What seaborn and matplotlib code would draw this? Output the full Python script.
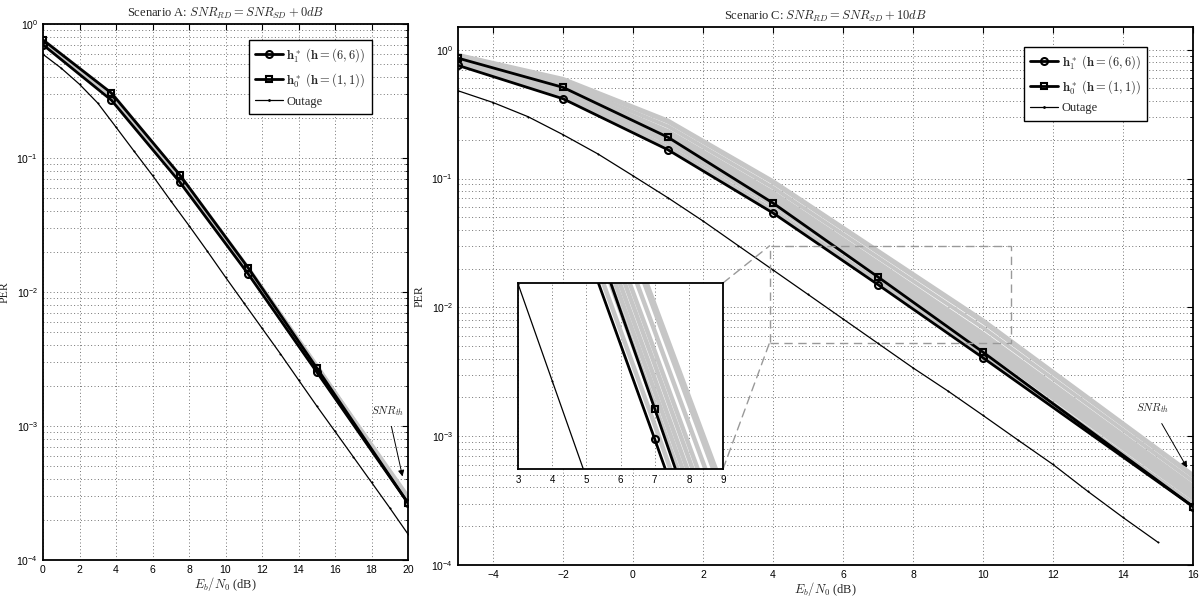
import numpy as np
import pandas as pd
import matplotlib
matplotlib.use('Agg')
import matplotlib.pyplot as plt
import seaborn as sns
from matplotlib.patches import Rectangle, ConnectionPatch
from matplotlib.lines import Line2D
from matplotlib.ticker import LogLocator, NullFormatter, FixedLocator

# ---------------- data: Scenario A ----------------
xA = [0, 3.75, 7.5, 11.25, 15, 20]
h1A = [0.70, 0.27, 0.066, 0.0136, 0.00253, 2.66e-4]
h0A = [0.76, 0.305, 0.0746, 0.0151, 0.00271, 2.66e-4]
grayA1 = [0.72, 0.28, 0.068, 0.0140, 0.00262, 2.75e-4]
grayA2 = [0.73, 0.29, 0.070, 0.0143, 0.00268, 2.85e-4]
grayA3 = [0.74, 0.295, 0.072, 0.0146, 0.00275, 2.95e-4]
grayA4 = [0.75, 0.30, 0.073, 0.0149, 0.00280, 2.80e-4]
xOutA = [0, 1, 2, 3, 4, 5, 6, 7, 8, 9, 10, 11, 12, 13, 14, 15, 16, 17, 18, 19, 20]
outA = [0.594, 0.468, 0.355, 0.257, 0.170, 0.112, 0.0741, 0.0479, 0.0313, 0.0202,
        0.0129, 0.00832, 0.00537, 0.00347, 0.00221, 0.00141, 9.12e-4, 5.89e-4,
        3.80e-4, 2.45e-4, 1.56e-4]

# ---------------- data: Scenario C ----------------
xC = [-5, -2, 1, 4, 7, 10, 16]
h1C = [0.755, 0.416, 0.167, 0.054, 0.0150, 0.00406, 2.84e-4]
h0C = [0.86, 0.51, 0.209, 0.0645, 0.0172, 0.00449, 2.84e-4]
grayC1 = [0.769, 0.431, 0.176, 0.0571, 0.0160, 0.00434, 3.01e-4]
grayC2 = [0.792, 0.455, 0.190, 0.0622, 0.0175, 0.00480, 3.28e-4]
grayC3 = [0.807, 0.471, 0.200, 0.0659, 0.0186, 0.00513, 3.47e-4]
grayC4 = [0.822, 0.489, 0.211, 0.0698, 0.0197, 0.00548, 3.67e-4]
grayC5 = [0.838, 0.506, 0.222, 0.0738, 0.0210, 0.00587, 3.88e-4]
grayC6 = [0.853, 0.525, 0.234, 0.0782, 0.0223, 0.00628, 4.11e-4]
grayC7 = [0.879, 0.553, 0.254, 0.0851, 0.0244, 0.00695, 4.48e-4]
grayC8 = [0.904, 0.583, 0.275, 0.0929, 0.0267, 0.00767, 4.88e-4]
grayC9 = [0.912, 0.594, 0.282, 0.0955, 0.0275, 0.00794, 5.01e-4]
xOutC = [-5, -4, -3, -2, -1, 0, 1, 2, 3, 4, 5, 6, 7, 8, 9, 10, 11, 12, 13, 14, 15]
outC = [0.48, 0.389, 0.302, 0.219, 0.155, 0.105, 0.0708, 0.0468, 0.0302, 0.0195,
        0.0126, 0.00813, 0.00525, 0.00339, 0.00224, 0.00145, 9.33e-4, 6.03e-4,
        3.72e-4, 2.34e-4, 1.5e-4]

xticksA = [0, 2, 4, 6, 8, 10, 12, 14, 16, 18, 20]
xticksC = [-4, -2, 0, 2, 4, 6, 8, 10, 12, 14, 16]
xticksInset = [3, 4, 5, 6, 7, 8, 9]

labels = [r"$\mathbf{h}_1^*\ (\mathbf{h}=(6,6))$",
          r"$\mathbf{h}_0^*\ (\mathbf{h}=(1,1))$",
          "Outage"]

# ---------------- style ----------------
sns.set_theme(style='white')
plt.rcParams['font.family'] = ['Liberation Sans', 'DejaVu Sans']
plt.rcParams['mathtext.fontset'] = 'cm'
plt.rcParams['axes.edgecolor'] = 'black'
plt.rcParams['axes.linewidth'] = 1.3
SERIF = ['Liberation Serif', 'DejaVu Serif']
GRAY = '#c6c6c6'
GRID = dict(ls=(0, (1, 2.5)), color='0.45', lw=0.7)

fig = plt.figure(figsize=(12.03, 5.97), dpi=100)
axA = fig.add_axes([43/1203, 37/597, 365/1203, 536/597])
axC = fig.add_axes([458/1203, 32/597, 735/1203, 538/597])


def draw(ax, x, y, **kw):
    sns.lineplot(x=x, y=y, ax=ax, estimator=None, sort=False, legend=False, **kw)


def draw_all(ax, x, grays, h1, h0, xo, out, glw=2.8, ms=5):
    for g in grays:
        draw(ax, x, g, color=GRAY, lw=glw, zorder=2)
    draw(ax, xo, out, color='black', lw=0.9, marker='.', ms=2, mec='black', mew=0.4, zorder=3)
    draw(ax, x, h0, color='black', lw=2, marker='s', ms=ms, mfc='none', mec='black', mew=1.5, zorder=4)
    draw(ax, x, h1, color='black', lw=2, marker='o', ms=ms, mfc='none', mec='black', mew=1.5, zorder=4)


def style_axes(ax, xlim, ylim, xticks):
    ax.set_yscale('log')
    ax.set_xlim(*xlim)
    ax.set_ylim(*ylim)
    ax.xaxis.set_major_locator(FixedLocator(xticks))
    ax.yaxis.set_major_locator(LogLocator(base=10, numticks=10))
    ax.yaxis.set_minor_locator(LogLocator(base=10, subs=np.arange(2, 10), numticks=50))
    ax.yaxis.set_minor_formatter(NullFormatter())
    ax.tick_params(which='both', direction='in', top=True, right=True, labelsize=7.5, colors='black')
    ax.tick_params(which='major', length=4, width=0.8)
    ax.tick_params(which='minor', length=2.5, width=0.6)
    ax.grid(True, which='major', axis='x', **GRID)
    ax.grid(True, which='both', axis='y', **GRID)
    for s in ax.spines.values():
        s.set_visible(True)
        s.set_color('black')
        s.set_linewidth(1.3)
    ax.set_xlabel(r"$E_b/N_0$ (dB)", fontsize=9, family=SERIF, labelpad=0)
    ax.set_ylabel("PER", fontsize=8.5, family=SERIF, labelpad=4)


def legend(ax, anchor):
    handles = [
        Line2D([], [], color='black', lw=2, marker='o', ms=5, mfc='none', mec='black', mew=1.5),
        Line2D([], [], color='black', lw=2, marker='s', ms=5, mfc='none', mec='black', mew=1.5),
        Line2D([], [], color='black', lw=0.9, marker='.', ms=2),
    ]
    lg = ax.legend(handles, labels, loc='upper right', bbox_to_anchor=anchor,
                   fancybox=False, framealpha=1, edgecolor='black',
                   handlelength=2.2, borderpad=0.5, labelspacing=0.55, handletextpad=0.3,
                   borderaxespad=0, prop={'family': SERIF, 'size': 9})
    lg.get_frame().set_linewidth(1.0)
    lg.set_zorder(10)


# ---------------- Scenario A ----------------
draw_all(axA, xA, [grayA1, grayA2, grayA3, grayA4], h1A, h0A, xOutA, outA, glw=3.2)
style_axes(axA, (0, 20), (1e-4, 1), xticksA)
axA.set_title(r"Scenario A: $SNR_{RD}=SNR_{SD}+0dB$", fontsize=9, family=SERIF, pad=5)
legend(axA, (0.90, 0.97))
axA.annotate(r"$SNR_{th}$", xy=(19.7, 4.2e-4), xytext=(18.9, 1.3e-3),
             fontsize=8, ha='center', va='center',
             arrowprops=dict(arrowstyle='-|>', color='black', lw=0.7, shrinkA=4, shrinkB=0,
                             mutation_scale=9))

# ---------------- Scenario C ----------------
draw_all(axC, xC, [grayC1, grayC2, grayC3, grayC4, grayC5, grayC6, grayC7, grayC8, grayC9],
         h1C, h0C, xOutC, outC)
style_axes(axC, (-5, 16), (1e-4, 1.5), xticksC)
axC.set_title(r"Scenario C: $SNR_{RD}=SNR_{SD}+10dB$", fontsize=9, family=SERIF, pad=5)
legend(axC, (0.937, 0.963))
axC.annotate(r"$SNR_{th}$", xy=(15.83, 5.7e-4), xytext=(14.86, 1.64e-3),
             fontsize=8, ha='center', va='center',
             arrowprops=dict(arrowstyle='-|>', color='black', lw=0.7, shrinkA=4, shrinkB=0,
                             mutation_scale=9))

# zoom rectangle
rx0, rx1, ry0, ry1 = 3.9, 10.8, 0.0053, 0.030
axC.add_patch(Rectangle((rx0, ry0), rx1 - rx0, ry1 - ry0, fill=False, ls=(0, (6, 4)),
                        ec='0.6', lw=1.0, zorder=5))

# ---------------- inset ----------------
axI = fig.add_axes([518/1203, (597-469)/597, 205/1203, 186/597], zorder=6)
axI.set_facecolor('white')
draw_all(axI, xC, [grayC1, grayC2, grayC3, grayC4, grayC5, grayC6, grayC7, grayC8, grayC9],
         h1C, h0C, xOutC, outC, glw=3.2, ms=5)
axI.set_yscale('log')
axI.set_xlim(3, 9)
axI.set_ylim(0.0131, 0.0303)
axI.xaxis.set_major_locator(FixedLocator(xticksInset))
axI.yaxis.set_major_locator(FixedLocator([]))
axI.yaxis.set_minor_locator(FixedLocator([]))
axI.tick_params(axis='x', which='both', direction='in', top=False, labelsize=7, length=3,
                colors='black', pad=4)
axI.grid(True, which='major', axis='x', **GRID)
axI.grid(False, axis='y')
axI.set_xlabel('')
axI.set_ylabel('')
for s in axI.spines.values():
    s.set_visible(True)
    s.set_color('black')
    s.set_linewidth(1.3)

for (ia, my) in [((1, 1), ry1), ((1, 0), ry0)]:
    cp = ConnectionPatch(xyA=ia, coordsA=axI.transAxes, xyB=(rx0, my), coordsB=axC.transData,
                         ls=(0, (6, 4)), color='0.6', lw=1.0, zorder=5)
    fig.add_artist(cp)

fig.savefig('out.png', dpi=100)
